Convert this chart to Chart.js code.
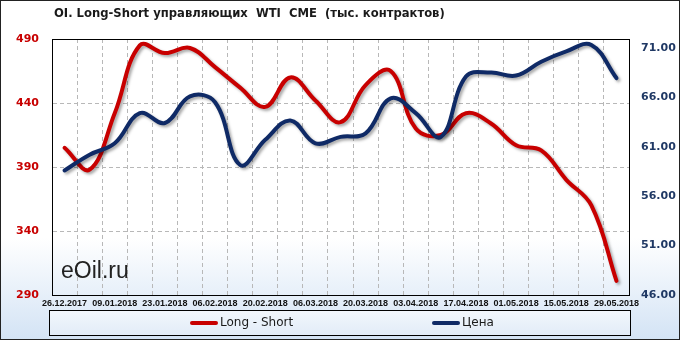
<!DOCTYPE html>
<html lang="ru">
<head>
<meta charset="UTF-8">
<title>OI. Long-Short управляющих WTI CME</title>
<script src="https://cdn.jsdelivr.net/npm/chart.js@4.4.1/dist/chart.umd.min.js"></script>
<style>
    html, body { margin: 0; padding: 0; background: #fff; }
    #wrap { width: 680px; height: 340px; }
</style>
</head>
<body>
<div id="wrap"><canvas id="myChart" width="680" height="340"></canvas></div>
<script>
// weekly reports (Tuesdays)
var dates = ['26.12.2017', '02.01.2018', '09.01.2018', '16.01.2018', '23.01.2018', '30.01.2018',
    '06.02.2018', '13.02.2018', '20.02.2018', '27.02.2018', '06.03.2018', '13.03.2018',
    '20.03.2018', '27.03.2018', '03.04.2018', '10.04.2018', '17.04.2018', '24.04.2018',
    '01.05.2018', '08.05.2018', '15.05.2018', '22.05.2018', '29.05.2018'];

// net long-short, thousand contracts (left axis)
var longShort = [405, 388, 432, 485, 479, 483, 468, 452, 437, 460, 442, 425,
    454, 465, 420, 415, 432, 424, 407, 403, 380, 360, 301];

// WTI price (right axis)
var price = [58.6, 60.2, 61.35, 64.4, 63.4, 66.1, 65.5, 59.15, 61.7, 63.65, 61.35, 62.0,
    62.35, 65.9, 64.4, 62.0, 68.1, 68.5, 68.2, 69.6, 70.65, 71.3, 67.95];

var leftTicks = [290, 340, 390, 440, 490];
var rightTicks = [46, 51, 56, 61, 66, 71];

var seriesNames = ['Long - Short', 'Цена'];
var redColor = '#c80000';
var blueColor = '#0f2a66';

var chartTitle = 'OI. Long-Short управляющих  WTI  CME  (тыс. контрактов)';

var frame = {
    id: 'frame',
    beforeDraw: function (chart) {
        var c = chart.ctx;
        var g = c.createLinearGradient(0, 0, 0, 340);
        g.addColorStop(0, '#ffffff');
        g.addColorStop(0.70, '#ffffff');
        g.addColorStop(1, '#d3e3f5');
        c.save();
        c.fillStyle = g;
        c.fillRect(0, 0, chart.width, chart.height);
        c.restore();
    },
    beforeDatasetDraw: function (chart) {
        var c = chart.ctx;
        c.save();
        c.shadowColor = 'rgba(0,0,0,0.35)';
        c.shadowBlur = 3;
        c.shadowOffsetX = 2;
        c.shadowOffsetY = 2;
    },
    afterDatasetDraw: function (chart) {
        chart.ctx.restore();
    },
    afterDraw: function (chart) {
        var c = chart.ctx;
        var a = chart.chartArea;
        c.save();
        // plot border
        c.strokeStyle = '#000';
        c.lineWidth = 1;
        c.strokeRect(Math.round(a.left) + 0.5, Math.round(a.top) + 0.5,
            Math.round(a.right - a.left), Math.round(a.bottom - a.top));
        // outer border
        c.strokeStyle = '#222';
        c.strokeRect(0.5, 0.5, chart.width - 1, chart.height - 1);

        // title
        c.fillStyle = '#1a1a1a';
        c.font = 'bold 11.6px "DejaVu Sans"';
        c.textBaseline = 'middle';
        c.textAlign = 'left';
        c.fillText(chartTitle, 54, 14);

        // watermark
        c.fillStyle = '#222';
        c.font = '23px "Liberation Sans"';
        c.fillText('eOil.ru', 61, 272);

        // legend box
        var lg = c.createLinearGradient(0, 310, 0, 335);
        lg.addColorStop(0, '#f2f7fc');
        lg.addColorStop(1, '#e2ecf8');
        c.fillStyle = lg;
        c.fillRect(49.5, 310.5, 581, 25);
        c.strokeStyle = '#000';
        c.strokeRect(49.5, 310.5, 581, 25);

        var items = [
            { x: 190, name: seriesNames[0], color: redColor },
            { x: 432, name: seriesNames[1], color: blueColor }
        ];
        c.font = '12px "DejaVu Sans"';
        items.forEach(function (it) {
            c.strokeStyle = it.color;
            c.lineWidth = 4;
            c.lineCap = 'round';
            c.beginPath();
            c.moveTo(it.x + 2, 323);
            c.lineTo(it.x + 26, 323);
            c.stroke();
            c.fillStyle = '#1a1a1a';
            c.fillText(it.name, it.x + 30, 323);
        });
        c.restore();
    }
};

var ctx = document.getElementById('myChart').getContext('2d');
var myChart = new Chart(ctx, {
    type: 'line',
    data: {
        labels: dates,
        datasets: [{
            label: seriesNames[0],
            data: longShort,
            yAxisID: 'y',
            borderColor: redColor,
            borderWidth: 4,
            borderCapStyle: 'round',
            pointRadius: 0,
            tension: 0.4,
            order: 1
        }, {
            label: seriesNames[1],
            data: price,
            yAxisID: 'y2',
            borderColor: blueColor,
            borderWidth: 4,
            borderCapStyle: 'round',
            pointRadius: 0,
            tension: 0.4,
            order: 0
        }]
    },
    options: {
        responsive: false,
        animation: false,
        layout: { padding: { top: 39, left: 0, right: 0, bottom: 29 } },
        plugins: {
            legend: { display: false },
            title: { display: false },
            tooltip: { enabled: false }
        },
        scales: {
            x: {
                type: 'category',
                offset: true,
                grid: {
                    offset: true,
                    color: '#b8b8b8',
                    drawTicks: false,
                    borderDash: [4, 3]
                },
                border: { display: true, color: 'rgba(0,0,0,0)', dash: [4, 3] },
                ticks: {
                    autoSkip: false,
                    maxRotation: 0,
                    minRotation: 0,
                    padding: 3,
                    color: '#111',
                    font: { family: 'Liberation Sans', size: 9, weight: 'bold' },
                    callback: function (val, i) {
                        return i % 2 === 0 ? dates[i] : '';
                    }
                },
                afterFit: function (s) { s.height = 16; }
            },
            y: {
                position: 'left',
                min: 290,
                max: 490,
                grid: { color: '#b8b8b8', drawTicks: false, borderDash: [4, 3] },
                border: { display: true, color: 'rgba(0,0,0,0)', dash: [4, 3] },
                ticks: {
                    padding: 13,
                    color: redColor,
                    font: { family: 'DejaVu Sans', size: 11, weight: 'bold' }
                },
                afterBuildTicks: function (s) {
                    s.ticks = leftTicks.map(function (v) { return { value: v }; });
                },
                afterFit: function (s) { s.width = 52; }
            },
            y2: {
                position: 'right',
                min: 46,
                max: 71.9,
                grid: { display: false, drawTicks: false },
                border: { display: false },
                ticks: {
                    padding: 12,
                    color: '#1f3864',
                    font: { family: 'DejaVu Sans', size: 11, weight: 'bold' },
                    callback: function (v) { return Number(v).toFixed(2); }
                },
                afterBuildTicks: function (s) {
                    s.ticks = rightTicks.map(function (v) { return { value: v }; });
                },
                afterFit: function (s) { s.width = 51; }
            }
        }
    },
    plugins: [frame]
});
</script>
</body>
</html>
